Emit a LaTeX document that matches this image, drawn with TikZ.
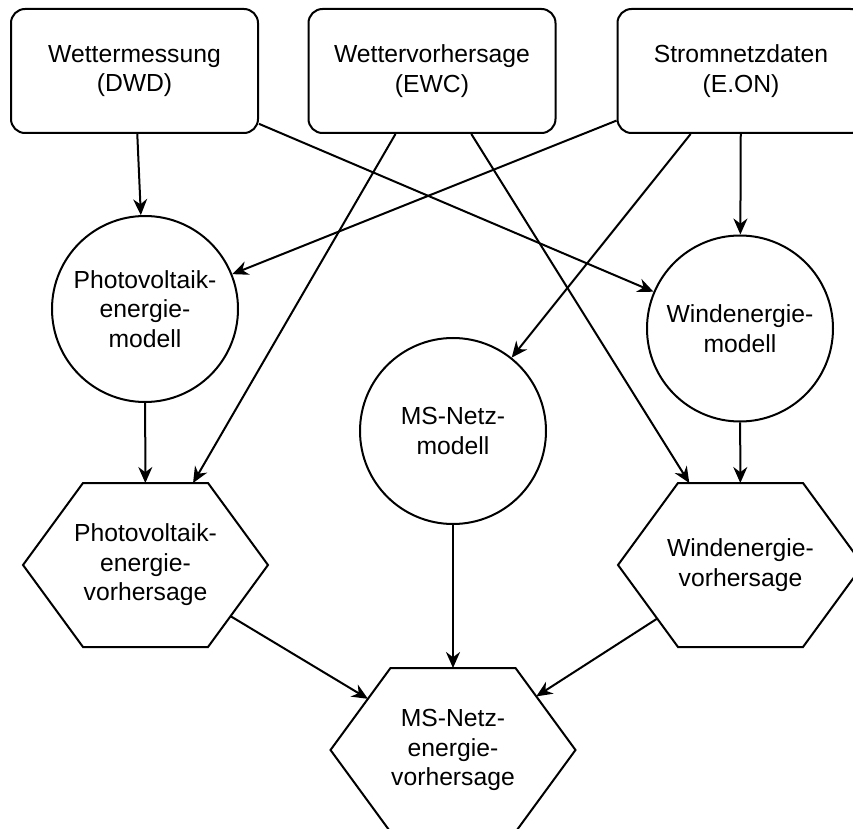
\documentclass[tikz,border=0pt]{standalone}
\usepackage{fontspec}
\setmainfont{Liberation Sans}
\usetikzlibrary{arrows.meta}
\tikzset{>={Stealth[length=8pt, width=7pt]}}

% Sechseck mit flacher Ober- und Unterkante
\makeatletter
\def\hexcut{30}% waagrechte Breite der Schraegen (pt)
\pgfdeclareshape{hexbox}{%
  \inheritsavedanchors[from=rectangle]%
  \inheritanchor[from=rectangle]{center}%
  \inheritanchor[from=rectangle]{text}%
  \inheritanchor[from=rectangle]{north}%
  \inheritanchor[from=rectangle]{south}%
  \inheritanchor[from=rectangle]{east}%
  \inheritanchor[from=rectangle]{west}%
  \backgroundpath{%
    \southwest \edef\hexxa{\strip@pt\pgf@x}\edef\hexya{\strip@pt\pgf@y}%
    \northeast \edef\hexxb{\strip@pt\pgf@x}\edef\hexyb{\strip@pt\pgf@y}%
    \pgfmathsetmacro\hexym{(\hexya+\hexyb)/2}%
    \pgfmathsetmacro\hexxl{\hexxa+\hexcut}%
    \pgfmathsetmacro\hexxr{\hexxb-\hexcut}%
    \pgfpathmoveto{\pgfpoint{\hexxa}{\hexym}}%
    \pgfpathlineto{\pgfpoint{\hexxl}{\hexyb}}%
    \pgfpathlineto{\pgfpoint{\hexxr}{\hexyb}}%
    \pgfpathlineto{\pgfpoint{\hexxb}{\hexym}}%
    \pgfpathlineto{\pgfpoint{\hexxr}{\hexya}}%
    \pgfpathlineto{\pgfpoint{\hexxl}{\hexya}}%
    \pgfpathclose
  }%
  \anchorborder{%
    \edef\hexdx{\strip@pt\pgf@x}\edef\hexdy{\strip@pt\pgf@y}%
    \southwest \edef\hexxa{\strip@pt\pgf@x}\edef\hexya{\strip@pt\pgf@y}%
    \northeast \edef\hexxb{\strip@pt\pgf@x}\edef\hexyb{\strip@pt\pgf@y}%
    \pgfmathsetmacro\hexa{(\hexxb-\hexxa)/2}%
    \pgfmathsetmacro\hexb{(\hexyb-\hexya)/2}%
    \pgfmathsetmacro\hexc{\hexa-\hexcut}%
    \pgfmathsetmacro\hexl{max(veclen(\hexdx,\hexdy),0.001)}%
    \pgfmathsetmacro\hexux{abs(\hexdx)/\hexl}%
    \pgfmathsetmacro\hexuy{abs(\hexdy)/\hexl+0.00001}%
    \pgfmathsetmacro\hext{(\hexuy*\hexc>=\hexux*\hexb) ? \hexb/\hexuy : \hexa*\hexb/(\hexux*\hexb+\hexuy*(\hexa-\hexc))}%
    \pgfmathsetmacro\hexpx{(\hexxa+\hexxb)/2+\hext*\hexdx/\hexl}%
    \pgfmathsetmacro\hexpy{(\hexya+\hexyb)/2+\hext*\hexdy/\hexl}%
    \pgf@x=\hexpx pt\relax
    \pgf@y=\hexpy pt\relax
  }%
}
\makeatother

\tikzset{
  source/.style={draw, rounded corners=7pt, minimum width=123.5pt, minimum height=62pt,
    inner sep=0pt, align=center},
  model/.style={draw, circle, minimum size=93pt, inner sep=0pt, align=center},
  forecast/.style={draw, hexbox, minimum width=122.5pt, minimum height=82pt,
    inner sep=0pt, outer sep=0pt, align=center}
}

\begin{document}
\begin{tikzpicture}[x=0.5pt, y=-0.5pt, line width=1pt,
    font=\fontsize{12.35}{14.8}\selectfont]
  \useasboundingbox (0, 0) rectangle (853, 829);
  % Datenquellen
  \node[source] (dwd) at (134.5, 71) {Wettermessung\\(DWD)};
  \node[source] (ewc) at (432, 71) {Wettervorhersage\\(EWC)};
  \node[source] (eon) at (741, 71) {Stromnetzdaten\\(E.ON)};
  % Modelle
  \node[model] (pvm) at (145, 309) {Photovoltaik-\\energie-\\modell};
  \node[model] (wim) at (740, 328.5) {Windenergie-\\modell};
  \node[model] (msm) at (453, 431) {MS-Netz-\\modell};
  % Vorhersagen
  \node[forecast] (pvf) at (145.5, 565) {Photovoltaik-\\energie-\\vorhersage};
  \node[forecast] (wif) at (740.5, 565) {Windenergie-\\vorhersage};
  \node[forecast] (msf) at (453, 750) {MS-Netz-\\energie-\\vorhersage};

  \draw[->] (dwd) -- (pvm);
  \draw[->] (dwd) -- (wim);
  \draw[->] (ewc) -- (pvf);
  \draw[->] (ewc) -- (wif);
  \draw[->] (eon) -- (pvm);
  \draw[->] (eon) -- (msm);
  \draw[->] (eon) -- (wim);
  \draw[->] (pvm) -- (pvf);
  \draw[->] (wim) -- (wif);
  \draw[->] (msm) -- (msf);
  \draw[->] (pvf) -- (msf);
  \draw[->] (wif) -- (msf);
\end{tikzpicture}
\end{document}
